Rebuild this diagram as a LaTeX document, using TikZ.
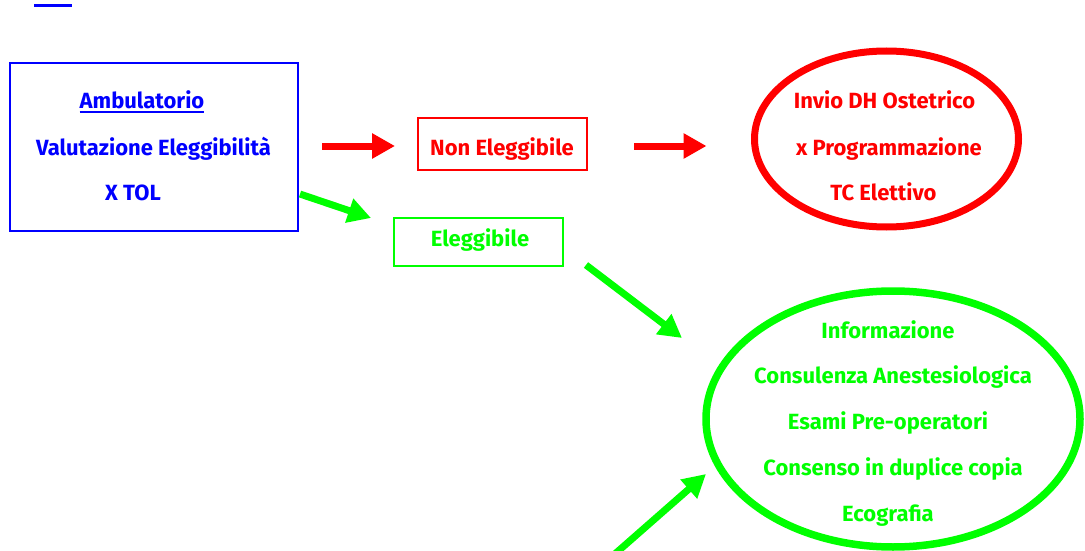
\documentclass[tikz,border=0pt]{standalone}
\usepackage{fontspec}
\setmainfont{Fira Sans}
\usetikzlibrary{arrows.meta,shapes.geometric,calc}
\definecolor{cblue}{RGB}{0,0,255}
\definecolor{cred}{RGB}{255,0,0}
\definecolor{cgreen}{RGB}{0,255,0}
\tikzset{
  txt/.style={inner sep=0pt,outer sep=0pt,anchor=base,font=\fontsize{22}{24}\selectfont\bfseries},
  bluetxt/.style={txt,text=cblue},
  redtxt/.style={txt,text=cred},
  greentxt/.style={txt,text=cgreen},
  boxnode/.style={draw,rectangle,inner sep=0pt,outer sep=0pt},
  ellnode/.style={draw,ellipse,inner sep=0pt,outer sep=0pt},
  bigarrow/.style={line width=7pt,-{Triangle[length=23pt,width=24pt]}},
  rarrow/.style={bigarrow,draw=cred,fill=cred},
  garrow/.style={bigarrow,draw=cgreen,fill=cgreen},
}
\begin{document}
\begin{tikzpicture}[x=1pt,y=-1pt]
\useasboundingbox (0,0) rectangle (1085,551);
\clip (0,0) rectangle (1085,551);
% cropped underline at top
\draw[cblue,line width=3pt] (34,5.5) -- (72,5.5);
% boxes
\node[boxnode,draw=cblue,line width=2pt,minimum width=288pt,minimum height=168pt] (amb) at (154,147) {};
\node[bluetxt] (a1) at (142,109) {Ambulatorio};
\draw[cblue,line width=1.6pt] ([yshift=-3pt]a1.base west) -- ([yshift=-3pt]a1.base east);
\node[bluetxt] (a2) at (153.5,155) {Valutazione Eleggibilità};
\node[bluetxt] (a3) at (133,200.5) {X TOL};

\node[boxnode,draw=cred,line width=1.5pt,minimum width=169pt,minimum height=52pt] (ne) at (502.5,144) {};
\node[redtxt] (net) at (502,155) {Non Eleggibile};

\node[boxnode,draw=cgreen,line width=1.5pt,minimum width=169pt,minimum height=48pt] (el) at (478.5,242) {};
\node[greentxt] (elt) at (480,246) {Eleggibile};

\node[ellnode,draw=cred,line width=7pt,minimum width=264pt,minimum height=176pt] (rell) at (886.5,139) {};
\node[redtxt] (r1) at (884.5,109) {Invio DH Ostetrico};
\node[redtxt] (r2) at (889,155) {x Programmazione};
\node[redtxt] (r3) at (883.5,200.5) {TC Elettivo};

\node[ellnode,draw=cgreen,line width=7.5pt,minimum width=374pt,minimum height=256pt] (gell) at (893,419) {};
\node[greentxt] (g1) at (888,338) {Informazione};
\node[greentxt] (g2) at (893,383) {Consulenza Anestesiologica};
\node[greentxt] (g3) at (888,429) {Esami Pre-operatori};
\node[greentxt] (g4) at (893,475) {Consenso in duplice copia};
\node[greentxt] (g5) at (888,521) {Ecografia};

% arrows
\draw[rarrow,shorten <=24pt,shorten >=23pt] ($(amb.east |- ne.west)+(0,2)$) -- ($(ne.west)+(0,2)$);
\draw[rarrow,shorten <=47pt,shorten >=48pt] ($(ne.east)+(0,2)$) -- ($(ne.east -| rell.west)+(0,2)$);
\draw[garrow] ($(amb.north east)!0.78!(amb.south east)+(2,0)$) -- ($(el.north west)+(-23,0)$);
\draw[garrow] ($(el.south east)+(23,-1)$) -- ($(gell.west)+(-24,-81)$);
\coordinate (gstart) at (608,560);
\draw[garrow] (gstart) -- ($(gell.west)+(0,55)$);
\end{tikzpicture}
\end{document}
